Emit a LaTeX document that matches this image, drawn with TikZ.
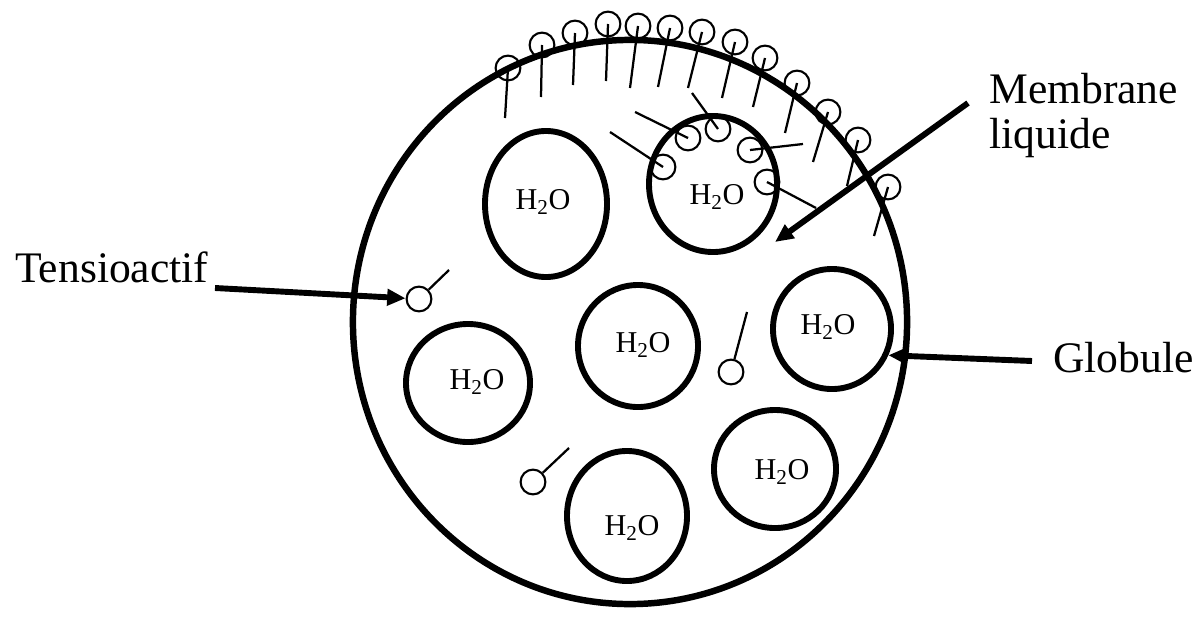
\documentclass[tikz,border=0pt]{standalone}
\usepackage{fontspec}
\setmainfont{Liberation Serif}
\usetikzlibrary{arrows.meta,shapes.geometric}
\begin{document}
\begin{tikzpicture}[x=0.025cm,y=-0.025cm,
  shell/.style={draw, ellipse, line width=4.6pt, inner sep=0pt, minimum width=13.85cm, minimum height=14.1cm},
  globule/.style={draw, ellipse, line width=4.2pt, inner sep=0pt},
  water/.style={font=\fontsize{21.5}{24}\selectfont, inner sep=0pt},
  head/.style={draw, circle, line width=1.5pt, minimum size=0.62cm, inner sep=0pt},
  tail/.style={line width=1.6pt},
  callout/.style={font=\fontsize{31}{34}\selectfont, inner sep=0pt, anchor=base west},
  pointer/.style={line width=4.2pt, -{Triangle[length=0.46cm,width=0.4cm]}}
]
\useasboundingbox (0,0) rectangle (1195,618);

% oil globule
\node[shell] (globe) at (630,322) {};

% surfactants anchored at the outer surface (heads out, tails in)
\foreach \i/\hx/\hy/\tx/\ty in {
  1/508/68/505/118, 2/542/45/541/97, 3/575/33/573/85, 4/608/24/606/81,
  5/638/26/630/88, 6/670/28/658/87, 7/702/32/688/88, 8/735/42/722/98,
  9/765/58/753/107, 10/797/83/785/133, 11/828/112/813/162,
  12/858/140/847/186, 13/888/187/874/236}{
  \node[head] (o\i) at (\hx,\hy) {};
  \coordinate (o\i t) at (\tx,\ty);
  \draw[tail] (o\i.center) -- (o\i t);
}

% internal water droplets
\node[globule, minimum width=3.05cm, minimum height=3.65cm] (g1) at (546,204) {};
\node[globule, minimum width=3.2cm,  minimum height=3.4cm]  (g2) at (713,184) {};
\node[globule, minimum width=3.0cm,  minimum height=3.05cm] (g3) at (638,346) {};
\node[globule, minimum width=2.95cm, minimum height=3.0cm]  (g4) at (832,329) {};
\node[globule, minimum width=3.1cm,  minimum height=2.95cm] (g5) at (468,383) {};
\node[globule, minimum width=3.05cm, minimum height=2.95cm] (g6) at (775,469) {};
\node[globule, minimum width=3.0cm,  minimum height=3.25cm] (g7) at (627,516) {};

\node[water] (w1) at (543,202) {H\textsubscript{2}O};
\node[water] (w2) at (717,197) {H\textsubscript{2}O};
\node[water] (w3) at (643,345) {H\textsubscript{2}O};
\node[water] (w4) at (828,327) {H\textsubscript{2}O};
\node[water] (w5) at (477,382) {H\textsubscript{2}O};
\node[water] (w6) at (782,472) {H\textsubscript{2}O};
\node[water] (w7) at (632,528) {H\textsubscript{2}O};

% surfactants lining the inner droplet (heads in, tails out)
\foreach \i/\hx/\hy/\tx/\ty in {
  1/663/167/610/132, 2/688/138/635/112, 3/718/129/692/93,
  4/750/150/803/144, 5/767/182/816/208}{
  \node[head] (m\i) at (\hx,\hy) {};
  \coordinate (m\i t) at (\tx,\ty);
  \draw[tail] (m\i.center) -- (m\i t);
}

% free surfactants in the oil phase
\foreach \i/\hx/\hy/\tx/\ty in {
  1/419/299/449/270, 2/731/372/747/312, 3/533/482/569/448}{
  \node[head] (t\i) at (\hx,\hy) {};
  \coordinate (t\i t) at (\tx,\ty);
  \draw[tail] (t\i) -- (t\i t);
}

% labels and pointers
\node[callout] (tlab) at (15,282) {Tensioactif};
\coordinate (tstart) at (215,288);
\draw[pointer] (tstart) -- (t1);

\node[callout] (glab) at (1053,372) {Globule};
\coordinate (gstart) at (1032,361);
\draw[pointer] (gstart) -- (g4.-25);

\node[callout] (mlab1) at (989,103) {Membrane};
\node[callout] (mlab2) at (989,148) {liquide};
\coordinate (mstart) at (968,103);
\coordinate (mtip) at (775,242);
\draw[pointer] (mstart) -- (mtip);
\end{tikzpicture}
\end{document}
